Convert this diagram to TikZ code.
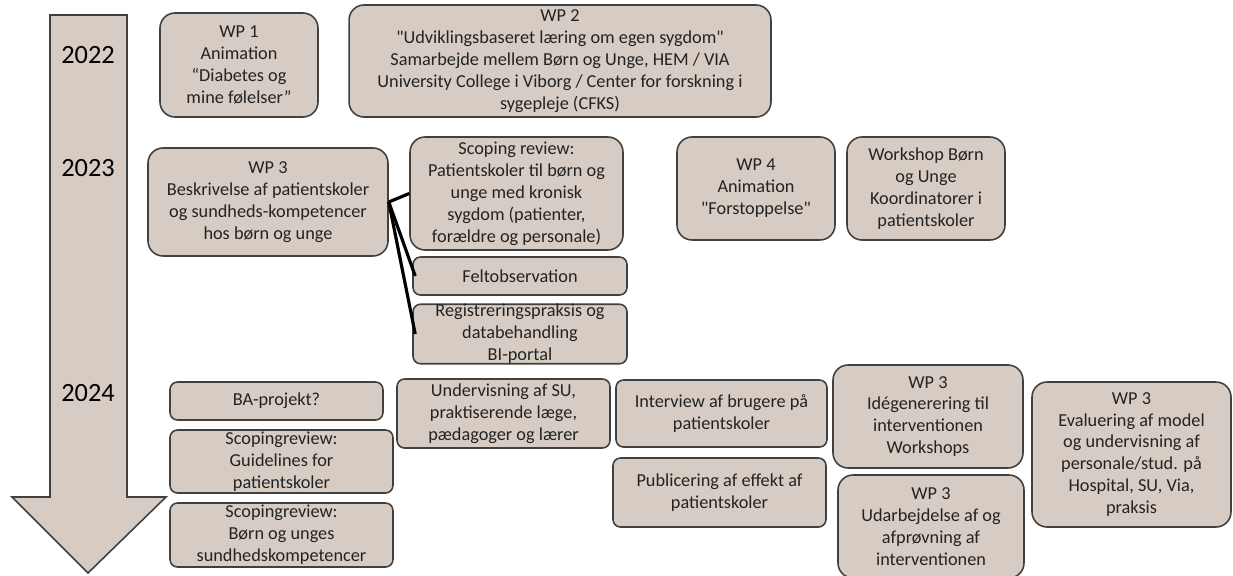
\documentclass[tikz,border=0pt]{standalone}
\usepackage{fontspec}
\setmainfont{Carlito}[Ligatures=TeXOff]
\usepackage{tikz}
\definecolor{boxfill}{RGB}{214,204,195}
\definecolor{boxline}{RGB}{64,64,64}
\definecolor{boxtext}{RGB}{35,35,35}
\tikzset{
    wpbox/.style={draw=boxline, fill=boxfill, line width=0.9pt, rounded corners=0.3cm,
        inner sep=0pt, align=center, text=boxtext, font=\fontsize{10.4}{12.5}\selectfont},
    smallbox/.style={wpbox, rounded corners=0.15cm},
    year/.style={text=black, font=\fontsize{15}{18}\selectfont},
    link/.style={line width=1.8pt, black}
}

\begin{document}
\begin{tikzpicture}[x=0.02cm, y=-0.02cm]
    \useasboundingbox (0, 0) rectangle (1233, 575);
    % time arrow
    \draw[draw=boxline, fill=boxfill, line width=0.9pt]
    (50, 15) -- (127, 15) -- (127, 497) -- (166, 497) -- (88, 573) -- (12, 497) -- (50, 497) -- cycle;
    \node[year] (y22) at (88, 55) {2022};
    \node[year] (y23) at (88, 168) {2023};
    \node[year] (y24) at (88, 393) {2024};

    % 2022
    \node[wpbox, minimum width=3.16cm, minimum height=2.08cm] (wp1) at (239, 65)
        {WP 1\\Animation\\“Diabetes og\\mine følelser”};
    \node[wpbox, minimum width=8.44cm, minimum height=2.24cm] (wp2) at (560, 61)
        {WP 2\\"Udviklingsbaseret læring om egen sygdom"\\Samarbejde mellem Børn og Unge, HEM / VIA\\University College i Viborg / Center for forskning i\\sygepleje (CFKS)};

    % 2023
    \node[wpbox, minimum width=4.8cm, minimum height=2.16cm] (wp3) at (268, 202)
        {WP 3\\Beskrivelse af patientskoler\\og sundheds-kompetencer\\hos børn og unge};
    \node[wpbox, minimum width=4.26cm, minimum height=2.26cm] (scoping) at (516.5, 193.5)
        {Scoping review:\\Patientskoler til børn og\\unge med kronisk\\sygdom (patienter,\\forældre og personale)};
    \node[smallbox, minimum width=4.28cm, minimum height=0.76cm] (felt) at (520, 276) {Feltobservation};
    \node[smallbox, minimum width=4.28cm, minimum height=1.16cm] (regist) at (520, 334)
        {Registreringspraksis og\\databehandling\\BI-portal};
    \node[wpbox, minimum width=3.16cm, minimum height=2.06cm] (wp4) at (756, 188.5)
        {WP 4\\Animation\\"Forstoppelse"};
    \node[wpbox, minimum width=3.16cm, minimum height=2.06cm] (wshop) at (926, 188.5)
        {Workshop Børn\\og Unge\\Koordinatorer i\\patientskoler};

    \draw[link] (wp3.east) -- (scoping.west);
    \draw[link] (wp3.east) -- ([xshift=0.06cm]felt.west);
    \draw[link] (wp3.east) -- ([xshift=0.06cm]regist.west);

    % 2024
    \node[smallbox, minimum width=4.26cm, minimum height=0.76cm] (ba) at (276.5, 401) {BA-projekt?};
    \node[smallbox, minimum width=4.46cm, minimum height=1.26cm] (guide) at (281.5, 461.5)
        {Scopingreview:\\Guidelines for\\patientskoler};
    \node[smallbox, minimum width=4.46cm, minimum height=1.28cm] (sundh) at (281.5, 535)
        {Scopingreview:\\Børn og unges\\sundhedskompetencer};
    \node[smallbox, minimum width=4.26cm, minimum height=1.38cm] (underv) at (503.5, 413.5)
        {Undervisning af SU,\\praktiserende læge,\\pædagoger og lærer};
    \node[smallbox, minimum width=4.22cm, minimum height=1.34cm] (interv) at (721.5, 413.5)
        {Interview af brugere på\\patientskoler};
    \node[smallbox, minimum width=4.26cm, minimum height=1.38cm] (publ) at (719.5, 492.5)
        {Publicering af effekt af\\patientskoler};
    \node[wpbox, minimum width=3.8cm, minimum height=2.06cm] (idea) at (928, 416.5)
        {WP 3\\Idégenerering til\\interventionen\\Workshops};
    \node[wpbox, minimum width=3.72cm, minimum height=2.06cm] (udarb) at (931, 526.5)
        {WP 3\\Udarbejdelse af og\\afprøvning af\\interventionen};
    \node[wpbox, minimum width=3.98cm, minimum height=2.9cm] (evalu) at (1131.5, 454.5)
        {WP 3\\Evaluering af model\\og undervisning af\\personale/stud. på\\Hospital, SU, Via,\\praksis};
\end{tikzpicture}
\end{document}
